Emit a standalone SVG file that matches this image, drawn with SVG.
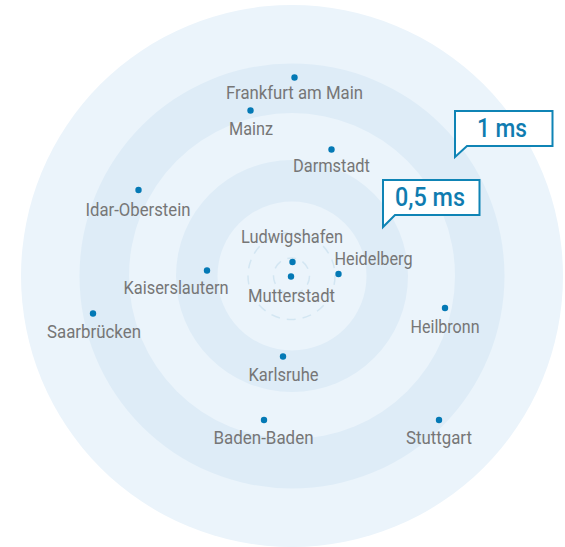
<svg xmlns="http://www.w3.org/2000/svg" width="565" height="547" viewBox="0 0 565 547">
<style>
.l{fill:#ebf4fb}.d{fill:#deecf7}
.dash{fill:none;stroke:#d3e6f2;stroke-width:1.5;stroke-dasharray:9 7}
.dot{fill:#0479b5}
text{font-family:Roboto,"Liberation Sans",Arial,sans-serif}
.t{font-size:18.5px;fill:#767676;text-anchor:middle}
.b{fill:#fff;stroke:#0f84b5;stroke-width:2}
.c{font-size:25px;font-weight:500;fill:#0f7cb0;text-anchor:middle}
</style>
<rect width="565" height="547" fill="#fff"/>
<g id="rings">
<circle class="l" cx="292" cy="276" r="271"/>
<circle class="d" cx="292" cy="276" r="212.500"/>
<circle class="l" cx="292" cy="276" r="163"/>
<circle class="d" cx="292" cy="276" r="116"/>
<circle class="l" cx="292" cy="276" r="74.5"/>
<circle class="dash" cx="291.5" cy="276" r="43.5"/>
<circle class="dash" cx="291.5" cy="276" r="18"/>
</g>
<g id="connectors"></g>
<g id="frankfurt"><circle class="dot" cx="294.500" cy="77.500" r="3.2"/><text class="t" x="294.500" y="98.500" textLength="137" lengthAdjust="spacingAndGlyphs">Frankfurt am Main</text></g>
<g id="mainz"><circle class="dot" cx="250.500" cy="110.500" r="3.2"/><text class="t" x="251" y="134.500" textLength="44" lengthAdjust="spacingAndGlyphs">Mainz</text></g>
<g id="darmstadt"><circle class="dot" cx="331.500" cy="149.500" r="3.2"/><text class="t" x="331.500" y="171.500" textLength="77" lengthAdjust="spacingAndGlyphs">Darmstadt</text></g>
<g id="idar"><circle class="dot" cx="138.500" cy="190" r="3.2"/><text class="t" x="138" y="215.500" textLength="105" lengthAdjust="spacingAndGlyphs">Idar-Oberstein</text></g>
<g id="ludwigshafen"><circle class="dot" cx="292.500" cy="262" r="3.2"/><text class="t" x="292" y="242.500" textLength="102" lengthAdjust="spacingAndGlyphs">Ludwigshafen</text></g>
<g id="heidelberg"><circle class="dot" cx="338.500" cy="274" r="3.2"/><text class="t" x="373.500" y="264.500" textLength="78" lengthAdjust="spacingAndGlyphs">Heidelberg</text></g>
<g id="mutterstadt"><circle class="dot" cx="291" cy="276.500" r="3.2"/><text class="t" x="291.500" y="301.500" textLength="87" lengthAdjust="spacingAndGlyphs">Mutterstadt</text></g>
<g id="kaiserslautern"><circle class="dot" cx="207" cy="270.500" r="3.2"/><text class="t" x="176" y="293.500" textLength="105" lengthAdjust="spacingAndGlyphs">Kaiserslautern</text></g>
<g id="saarbruecken"><circle class="dot" cx="93" cy="313.500" r="3.2"/><text class="t" x="94" y="337.500" textLength="94" lengthAdjust="spacingAndGlyphs">Saarbrücken</text></g>
<g id="heilbronn"><circle class="dot" cx="445" cy="308" r="3.2"/><text class="t" x="445" y="332.500" textLength="69" lengthAdjust="spacingAndGlyphs">Heilbronn</text></g>
<g id="karlsruhe"><circle class="dot" cx="283" cy="356.500" r="3.2"/><text class="t" x="283.500" y="380.500" textLength="70" lengthAdjust="spacingAndGlyphs">Karlsruhe</text></g>
<g id="baden"><circle class="dot" cx="264" cy="420" r="3.2"/><text class="t" x="263.500" y="443.500" textLength="100" lengthAdjust="spacingAndGlyphs">Baden-Baden</text></g>
<g id="stuttgart"><circle class="dot" cx="439" cy="420" r="3.2"/><text class="t" x="439" y="443.500" textLength="66" lengthAdjust="spacingAndGlyphs">Stuttgart</text></g>
<g id="label-1ms"><path class="b" d="M455 111H552.500V146H467L455 157Z"/><text class="c" x="502" y="137" textLength="50" lengthAdjust="spacingAndGlyphs">1 ms</text></g>
<g id="label-05ms"><path class="b" d="M383 180H479.500V215H395L383 227Z"/><text class="c" x="430" y="206" textLength="70" lengthAdjust="spacingAndGlyphs">0,5 ms</text></g>
</svg>
